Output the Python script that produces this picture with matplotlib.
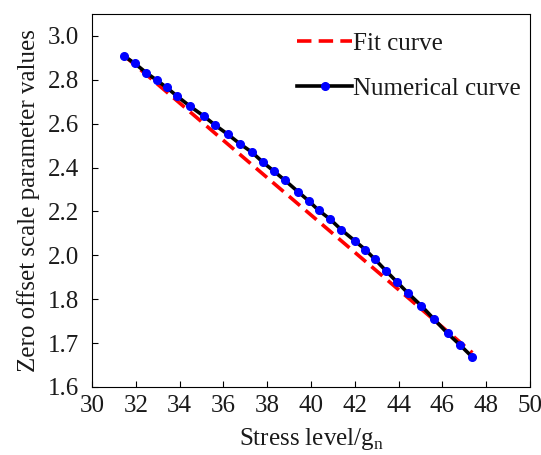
import numpy as np
import matplotlib
matplotlib.use('Agg')
import matplotlib.pyplot as plt

plt.rcParams['font.family'] = ['Liberation Serif', 'DejaVu Serif']
plt.rcParams['mathtext.fontset'] = 'custom'
plt.rcParams['mathtext.rm'] = 'Liberation Serif'

# numerical curve
stress = [31.47, 31.95, 32.48, 32.97, 33.41, 33.88, 34.47, 35.10, 35.60, 36.21,
          36.77, 37.29, 37.81, 38.30, 38.81, 39.41, 39.92, 40.35, 40.87, 41.38,
          41.99, 42.48, 42.92, 43.42, 43.94, 44.43, 45.04, 45.63, 46.24, 46.80, 47.37]
numerical = [2.908, 2.875, 2.832, 2.797, 2.765, 2.726, 2.680, 2.635, 2.595, 2.551,
             2.507, 2.471, 2.424, 2.384, 2.342, 2.290, 2.246, 2.205, 2.165, 2.117,
             2.067, 2.026, 1.982, 1.930, 1.877, 1.828, 1.785, 1.754, 1.722, 1.696, 1.668]

# fit curve
fit_x = [31.47, 36.0, 40.0, 44.5, 47.37]
fit_y = [2.910, 2.524, 2.184, 1.801, 1.678]

yticks = [1.6, 1.7, 1.8, 2.0, 2.2, 2.4, 2.6, 2.8, 3.0]
xticks = np.arange(30, 51, 2)


# y axis: 0.1 per tick below 1.8, 0.2 per tick above
def fwd(y):
    y = np.asarray(y, dtype=float)
    return np.where(y < 1.8, (y - 1.6) / 0.1, 2 + (y - 1.8) / 0.2)


def inv(p):
    p = np.asarray(p, dtype=float)
    return np.where(p < 2, 1.6 + p * 0.1, 1.8 + (p - 2) * 0.2)


fig = plt.figure(figsize=(5.41, 4.55), dpi=100)
ax = fig.add_axes([0.170, 0.1495, 0.8096, 0.8198])
ax.set_yscale('function', functions=(fwd, inv))

ax.plot(fit_x, fit_y, '--', color='#ff0000', lw=2.6, dashes=(4, 2), label='Fit curve', zorder=2)
ax.plot(stress, numerical, '-', color='black', lw=2.6, marker='o', ms=5.5,
        mfc='#0000ff', mec='#0000ff', label='Numerical curve', zorder=3)

ax.set_xlim(30, 50)
ax.set_ylim(1.6, 3.1)
ax.set_xticks(xticks)
ax.set_yticks(yticks)
ax.set_yticklabels(['%.1f' % v for v in yticks])
ax.tick_params(direction='in', length=4, width=0.8, labelsize=18, pad=6,
               labelcolor='#1a1a1a')
ax.tick_params(axis='y', pad=9)

ax.set_xlabel('Stress level/g$_\\mathregular{n}$', fontsize=18, labelpad=6, color='#1a1a1a')
ax.set_ylabel('Zero offset scale parameter values', fontsize=18, labelpad=6, color='#1a1a1a')

leg = ax.legend(loc='upper right', frameon=False, fontsize=18, handlelength=2.2,
                handletextpad=0.05, numpoints=1, labelspacing=0.9,
                bbox_to_anchor=(1.031, 1.01))
for t in leg.get_texts():
    t.set_color('#1a1a1a')

fig.savefig('out.png', dpi=100)
